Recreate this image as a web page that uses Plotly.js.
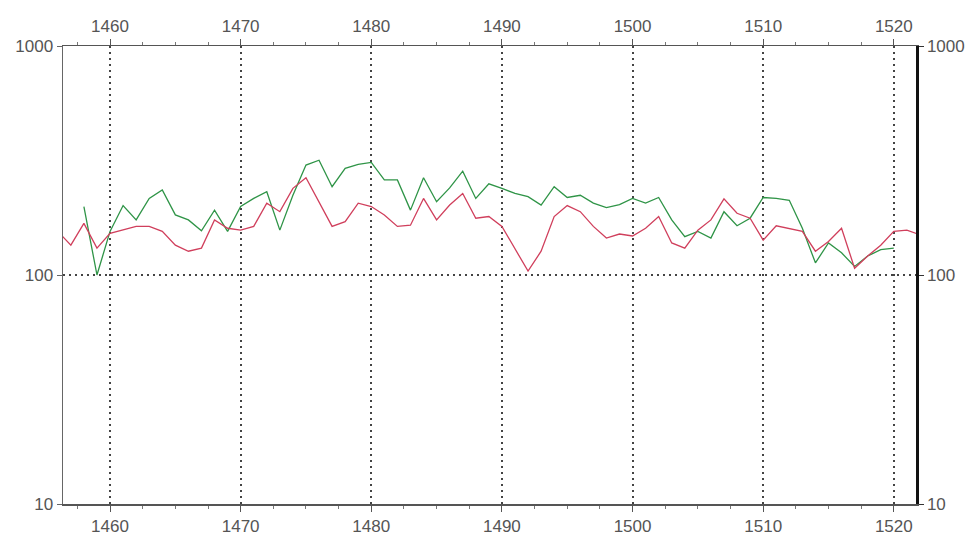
<!DOCTYPE html>
<html>
<head>
<meta charset="utf-8">
<script src="https://cdn.plot.ly/plotly-3.0.1.min.js"></script>
<style>html,body{margin:0;padding:0;background:#fff;}#chart{width:971px;height:536px;}</style>
</head>
<body>
<div id="chart"></div>
<script>
// Years
const redYears = [1456,1457,1458,1459,1460,1461,1462,1463,1464,1465,1466,1467,1468,1469,1470,1471,1472,1473,1474,1475,1476,1477,1478,1479,1480,1481,1482,1483,1484,1485,1486,1487,1488,1489,1490,1491,1492,1493,1494,1495,1496,1497,1498,1499,1500,1501,1502,1503,1504,1505,1506,1507,1508,1509,1510,1511,1512,1513,1514,1515,1516,1517,1518,1519,1520,1521,1522];
const redValues = [155,135,168,131,152,157,163,163,155,135,127,131,174,160,157,163,206,189,239,266,209,163,171,206,199,183,163,165,216,174,202,227,177,180,163,131,104,127,180,201,189,163,145,151,148,160,180,138,131,157,174,215,186,177,142,164,160,155,127,140,160,107,121,135,155,157,150];
const greenYears = [1458,1459,1460,1461,1462,1463,1464,1465,1466,1467,1468,1469,1470,1471,1472,1473,1474,1475,1476,1477,1478,1479,1480,1481,1482,1483,1484,1485,1486,1487,1488,1489,1490,1491,1492,1493,1494,1495,1496,1497,1498,1499,1500,1501,1502,1503,1504,1505,1506,1507,1508,1509,1510,1511,1512,1513,1514,1515,1516,1517,1518,1519,1520];
const greenValues = [199,100,155,201,174,216,235,183,174,156,192,155,199,216,231,157,223,302,317,243,292,304,310,260,260,192,266,209,240,284,216,250,239,227,220,202,243,218,223,206,197,203,216,206,218,174,147,155,145,189,164,177,218,216,212,160,113,138,125,109,121,129,131];
const yearTicks = [1460,1470,1480,1490,1500,1510,1520];
const valueTicks = [10,100,1000];

const tickFont = {family: 'Liberation Sans, Arial, sans-serif', size: 17, color: '#555'};
const xRange = [1456.4, 1521.7];
const yRange = [1, 3];
const gridStyle = {showgrid: true, gridcolor: '#444', gridwidth: 2, griddash: '2px,4px'};

const traces = [
  {x: greenYears, y: greenValues, type: 'scatter', mode: 'lines', line: {color: '#2f9447', width: 1.3}, hoverinfo: 'skip'},
  {x: redYears, y: redValues, type: 'scatter', mode: 'lines', line: {color: '#d03f5c', width: 1.3}, hoverinfo: 'skip'},
  {x: [yearTicks[0]], y: [valueTicks[1]], xaxis: 'x2', yaxis: 'y2', type: 'scatter', mode: 'lines', opacity: 0, hoverinfo: 'skip'}
];

const layout = {
  width: 971, height: 536,
  margin: {l: 63, r: 55, t: 46, b: 32, pad: 0},
  paper_bgcolor: '#fff', plot_bgcolor: '#fff',
  showlegend: false,
  xaxis: Object.assign({
    range: xRange, tickvals: yearTicks, ticktext: yearTicks.map(String),
    showline: true, linecolor: '#555', linewidth: 1.5, zeroline: false,
    ticks: 'outside', ticklen: 6, tickcolor: '#555', tickwidth: 1,
    tickfont: tickFont,
    minor: {dtick: 2.5, tick0: 1460, ticks: 'outside', ticklen: 3, tickcolor: '#777', showgrid: false}
  }, gridStyle),
  xaxis2: {
    overlaying: 'x', side: 'top', range: xRange, tickvals: yearTicks, ticktext: yearTicks.map(String),
    showline: true, linecolor: '#555', linewidth: 1.5, zeroline: false, showgrid: false,
    ticks: 'outside', ticklen: 6, tickcolor: '#555', tickwidth: 1, tickfont: tickFont,
    minor: {dtick: 2.5, tick0: 1460, ticks: 'outside', ticklen: 3, tickcolor: '#777', showgrid: false}
  },
  yaxis: Object.assign({
    type: 'log', range: yRange, tickvals: valueTicks, ticktext: valueTicks.map(String),
    showline: true, linecolor: '#666', linewidth: 1.5, zeroline: false,
    ticks: 'outside', ticklen: 5, tickcolor: '#666', tickfont: tickFont
  }, gridStyle),
  yaxis2: {
    type: 'log', overlaying: 'y', side: 'right', range: yRange, tickvals: valueTicks, ticktext: valueTicks.map(String),
    showline: true, linecolor: '#111', linewidth: 2.5, zeroline: false, showgrid: false,
    ticks: 'outside', ticklen: 5, tickcolor: '#333', tickfont: tickFont
  }
};

Plotly.newPlot('chart', traces, layout, {staticPlot: true, displayModeBar: false});
</script>
</body>
</html>
